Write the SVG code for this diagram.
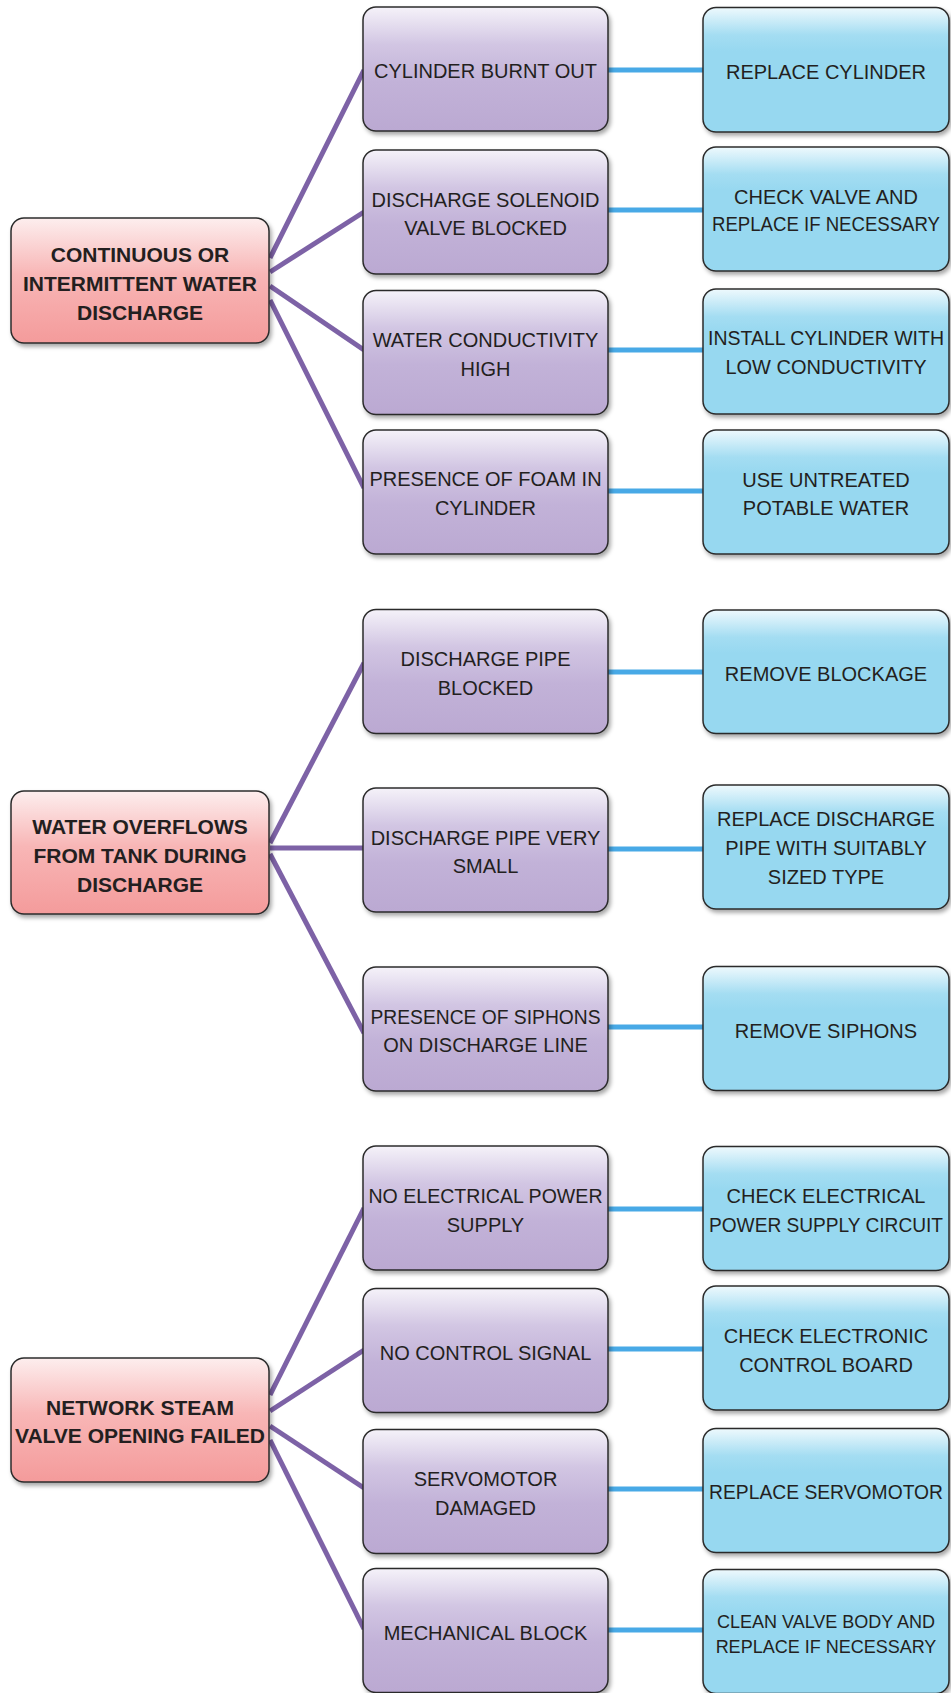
<svg xmlns="http://www.w3.org/2000/svg" width="951" height="1693" viewBox="0 0 951 1693">
  <defs>
    <linearGradient id="gPurple" x1="0" y1="0" x2="0" y2="1">
      <stop offset="0" stop-color="#f5f2f9"/>
      <stop offset="0.3" stop-color="#d2c6e3"/>
      <stop offset="0.6" stop-color="#c2b2d8"/>
      <stop offset="1" stop-color="#bba9d2"/>
    </linearGradient>
    <linearGradient id="gBlue" x1="0" y1="0" x2="0" y2="1">
      <stop offset="0" stop-color="#eef9fd"/>
      <stop offset="0.22" stop-color="#a4ddf2"/>
      <stop offset="0.35" stop-color="#97d8f0"/>
      <stop offset="1" stop-color="#97d8f0"/>
    </linearGradient>
    <linearGradient id="gRed" x1="0" y1="0" x2="0" y2="1">
      <stop offset="0" stop-color="#fdeeee"/>
      <stop offset="0.45" stop-color="#f8b6b6"/>
      <stop offset="1" stop-color="#f49b9b"/>
    </linearGradient>
    <filter id="shadow" x="-10%" y="-10%" width="125%" height="130%">
      <feDropShadow dx="2" dy="3" stdDeviation="2" flood-color="#000" flood-opacity="0.35"/>
    </filter>
  </defs>
  <style>
    .box { stroke: #2b2b2b; stroke-width: 1.5; filter: url(#shadow); }
    .problem { fill: url(#gRed); }
    .cause { fill: url(#gPurple); }
    .fix { fill: url(#gBlue); }
    .link { stroke: #7d62a6; stroke-width: 5; fill: none; }
    .remedy { stroke: #48a9e6; stroke-width: 5; fill: none; }
    text { font-family: "Liberation Sans", Arial, sans-serif; fill: #231f20; text-anchor: middle; }
    .bold { font-weight: bold; font-size: 21px; }
    .reg { font-size: 20px; }
    .small { font-size: 18px; }
  </style>

  <!-- connectors -->
  <g id="connectors">
    <line class="link" x1="270" y1="258" x2="364" y2="70"/>
    <line class="link" x1="270" y1="272" x2="364" y2="212"/>
    <line class="link" x1="270" y1="286" x2="364" y2="350"/>
    <line class="link" x1="270" y1="300" x2="364" y2="488"/>
    <line class="link" x1="270" y1="843" x2="364" y2="663"/>
    <line class="link" x1="270" y1="848" x2="364" y2="848"/>
    <line class="link" x1="270" y1="854" x2="364" y2="1033"/>
    <line class="link" x1="270" y1="1395" x2="364" y2="1208"/>
    <line class="link" x1="270" y1="1411" x2="364" y2="1350"/>
    <line class="link" x1="270" y1="1426" x2="364" y2="1488"/>
    <line class="link" x1="270" y1="1440" x2="364" y2="1629"/>

    <line class="remedy" x1="608" y1="70" x2="704" y2="70"/>
    <line class="remedy" x1="608" y1="210" x2="704" y2="210"/>
    <line class="remedy" x1="608" y1="350" x2="704" y2="350"/>
    <line class="remedy" x1="608" y1="491" x2="704" y2="491"/>
    <line class="remedy" x1="608" y1="672" x2="704" y2="672"/>
    <line class="remedy" x1="608" y1="849" x2="704" y2="849"/>
    <line class="remedy" x1="608" y1="1027" x2="704" y2="1027"/>
    <line class="remedy" x1="608" y1="1209" x2="704" y2="1209"/>
    <line class="remedy" x1="608" y1="1349" x2="704" y2="1349"/>
    <line class="remedy" x1="608" y1="1489" x2="704" y2="1489"/>
    <line class="remedy" x1="608" y1="1630" x2="704" y2="1630"/>
  </g>

  <!-- problems -->
  <g id="p1">
    <rect class="box problem" x="11" y="218" width="258" height="125" rx="13"/>
    <text class="bold" x="140" y="261.5">CONTINUOUS OR</text>
    <text class="bold" x="140" y="290.5">INTERMITTENT WATER</text>
    <text class="bold" x="140" y="319.5">DISCHARGE</text>
  </g>
  <g id="p2">
    <rect class="box problem" x="11" y="791" width="258" height="123" rx="13"/>
    <text class="bold" x="140" y="833.5">WATER OVERFLOWS</text>
    <text class="bold" x="140" y="862.5">FROM TANK DURING</text>
    <text class="bold" x="140" y="891.5">DISCHARGE</text>
  </g>
  <g id="p3">
    <rect class="box problem" x="11" y="1358" width="258" height="124" rx="13"/>
    <text class="bold" x="140" y="1414.5">NETWORK STEAM</text>
    <text class="bold" x="140" y="1443">VALVE OPENING FAILED</text>
  </g>

  <!-- causes -->
  <g id="c1">
    <rect class="box cause" x="363" y="7" width="245" height="124" rx="13"/>
    <text class="reg" x="485.5" y="78">CYLINDER BURNT OUT</text>
  </g>
  <g id="c2">
    <rect class="box cause" x="363" y="150" width="245" height="124" rx="13"/>
    <text class="reg" x="485.5" y="206.5">DISCHARGE SOLENOID</text>
    <text class="reg" x="485.5" y="235">VALVE BLOCKED</text>
  </g>
  <g id="c3">
    <rect class="box cause" x="363" y="290.5" width="245" height="124" rx="13"/>
    <text class="reg" x="485.5" y="346.5">WATER CONDUCTIVITY</text>
    <text class="reg" x="485.5" y="375.5">HIGH</text>
  </g>
  <g id="c4">
    <rect class="box cause" x="363" y="430" width="245" height="124" rx="13"/>
    <text class="reg" x="485.5" y="486">PRESENCE OF FOAM IN</text>
    <text class="reg" x="485.5" y="515">CYLINDER</text>
  </g>
  <g id="c5">
    <rect class="box cause" x="363" y="609.5" width="245" height="124" rx="13"/>
    <text class="reg" x="485.5" y="665.5">DISCHARGE PIPE</text>
    <text class="reg" x="485.5" y="694.5">BLOCKED</text>
  </g>
  <g id="c6">
    <rect class="box cause" x="363" y="788" width="245" height="124" rx="13"/>
    <text class="reg" x="485.5" y="844.5">DISCHARGE PIPE VERY</text>
    <text class="reg" x="485.5" y="872.5">SMALL</text>
  </g>
  <g id="c7">
    <rect class="box cause" x="363" y="967" width="245" height="124" rx="13"/>
    <text class="reg" x="485.5" y="1023.5" textLength="230" lengthAdjust="spacingAndGlyphs">PRESENCE OF SIPHONS</text>
    <text class="reg" x="485.5" y="1052">ON DISCHARGE LINE</text>
  </g>
  <g id="c8">
    <rect class="box cause" x="363" y="1146" width="245" height="124" rx="13"/>
    <text class="reg" x="485.5" y="1202.5" textLength="234" lengthAdjust="spacingAndGlyphs">NO ELECTRICAL POWER</text>
    <text class="reg" x="485.5" y="1231.5">SUPPLY</text>
  </g>
  <g id="c9">
    <rect class="box cause" x="363" y="1288.5" width="245" height="124" rx="13"/>
    <text class="reg" x="485.5" y="1360">NO CONTROL SIGNAL</text>
  </g>
  <g id="c10">
    <rect class="box cause" x="363" y="1429.5" width="245" height="124" rx="13"/>
    <text class="reg" x="485.5" y="1486">SERVOMOTOR</text>
    <text class="reg" x="485.5" y="1514.5">DAMAGED</text>
  </g>
  <g id="c11">
    <rect class="box cause" x="363" y="1568.5" width="245" height="124" rx="13"/>
    <text class="reg" x="485.5" y="1639.5">MECHANICAL BLOCK</text>
  </g>

  <!-- remedies -->
  <g id="r1">
    <rect class="box fix" x="703" y="7.5" width="246" height="124.5" rx="13"/>
    <text class="reg" x="826" y="79">REPLACE CYLINDER</text>
  </g>
  <g id="r2">
    <rect class="box fix" x="703" y="147" width="246" height="124" rx="13"/>
    <text class="reg" x="826" y="203.5">CHECK VALVE AND</text>
    <text class="reg" x="826" y="231" textLength="228" lengthAdjust="spacingAndGlyphs">REPLACE IF NECESSARY</text>
  </g>
  <g id="r3">
    <rect class="box fix" x="703" y="289" width="246" height="125" rx="13"/>
    <text class="reg" x="826" y="345" textLength="236" lengthAdjust="spacingAndGlyphs">INSTALL CYLINDER WITH</text>
    <text class="reg" x="826" y="374">LOW CONDUCTIVITY</text>
  </g>
  <g id="r4">
    <rect class="box fix" x="703" y="430" width="246" height="124" rx="13"/>
    <text class="reg" x="826" y="486.5">USE UNTREATED</text>
    <text class="reg" x="826" y="515">POTABLE WATER</text>
  </g>
  <g id="r5">
    <rect class="box fix" x="703" y="610" width="246" height="123.5" rx="13"/>
    <text class="reg" x="826" y="681">REMOVE BLOCKAGE</text>
  </g>
  <g id="r6">
    <rect class="box fix" x="703" y="785" width="246" height="124" rx="13"/>
    <text class="reg" x="826" y="826">REPLACE DISCHARGE</text>
    <text class="reg" x="826" y="855">PIPE WITH SUITABLY</text>
    <text class="reg" x="826" y="884">SIZED TYPE</text>
  </g>
  <g id="r7">
    <rect class="box fix" x="703" y="966.5" width="246" height="124" rx="13"/>
    <text class="reg" x="826" y="1037.5">REMOVE SIPHONS</text>
  </g>
  <g id="r8">
    <rect class="box fix" x="703" y="1146.5" width="246" height="124" rx="13"/>
    <text class="reg" x="826" y="1203">CHECK ELECTRICAL</text>
    <text class="reg" x="826" y="1232" textLength="234" lengthAdjust="spacingAndGlyphs">POWER SUPPLY CIRCUIT</text>
  </g>
  <g id="r9">
    <rect class="box fix" x="703" y="1286" width="246" height="124" rx="13"/>
    <text class="reg" x="826" y="1342.5">CHECK ELECTRONIC</text>
    <text class="reg" x="826" y="1371.5">CONTROL BOARD</text>
  </g>
  <g id="r10">
    <rect class="box fix" x="703" y="1428.5" width="246" height="124" rx="13"/>
    <text class="reg" x="826" y="1499" textLength="234" lengthAdjust="spacingAndGlyphs">REPLACE SERVOMOTOR</text>
  </g>
  <g id="r11">
    <rect class="box fix" x="703" y="1569.5" width="246" height="124" rx="13"/>
    <text class="small" x="826" y="1627.5">CLEAN VALVE BODY AND</text>
    <text class="small" x="826" y="1653">REPLACE IF NECESSARY</text>
  </g>
</svg>
